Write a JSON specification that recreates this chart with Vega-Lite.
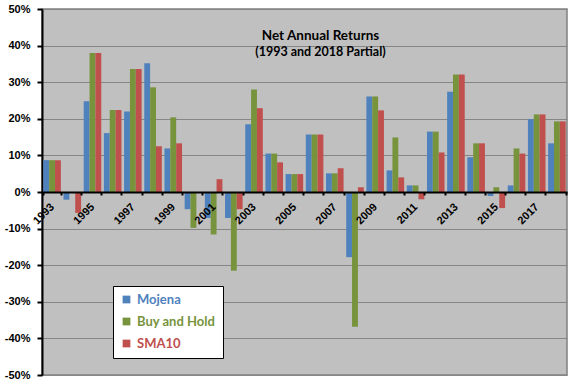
{
  "$schema": "https://vega.github.io/schema/vega-lite/v6.json",
  "width": 525,
  "height": 366,
  "autosize": "none",
  "padding": {"left": 42, "top": 9, "right": 9, "bottom": 9},
  "background": "white",
  "title": {
    "text": "Net Annual Returns",
    "subtitle": "(1993 and 2018 Partial)",
    "anchor": "middle",
    "frame": "group",
    "orient": "top",
    "offset": -55,
    "dx": 16,
    "font": "Lato",
    "fontSize": 13.5,
    "fontWeight": "bold",
    "color": "black",
    "subtitleFont": "Lato",
    "subtitleFontSize": 12.5,
    "subtitleFontWeight": "bold",
    "subtitleColor": "black",
    "subtitlePadding": 3
  },
  "config": {
    "view": {"fill": "#C0C0C0", "stroke": "#808080", "strokeWidth": 1.5}
  },
  "data": {
    "values": [
      {"year": 1993, "Mojena": 8.7, "Buy and Hold": 8.7, "SMA10": 8.7},
      {"year": 1994, "Mojena": -2.1, "Buy and Hold": 0, "SMA10": -5.7},
      {"year": 1995, "Mojena": 24.8, "Buy and Hold": 38.0, "SMA10": 38.0},
      {"year": 1996, "Mojena": 16.1, "Buy and Hold": 22.4, "SMA10": 22.4},
      {"year": 1997, "Mojena": 22.0, "Buy and Hold": 33.6, "SMA10": 33.6},
      {"year": 1998, "Mojena": 35.2, "Buy and Hold": 28.6, "SMA10": 12.5},
      {"year": 1999, "Mojena": 11.9, "Buy and Hold": 20.4, "SMA10": 13.3},
      {"year": 2000, "Mojena": -4.7, "Buy and Hold": -9.8, "SMA10": 0},
      {"year": 2001, "Mojena": -7.1, "Buy and Hold": -11.6, "SMA10": 3.5},
      {"year": 2002, "Mojena": -7.1, "Buy and Hold": -21.5, "SMA10": -4.7},
      {"year": 2003, "Mojena": 18.5, "Buy and Hold": 28.0, "SMA10": 22.9},
      {"year": 2004, "Mojena": 10.5, "Buy and Hold": 10.5, "SMA10": 8.1},
      {"year": 2005, "Mojena": 4.9, "Buy and Hold": 4.9, "SMA10": 4.9},
      {"year": 2006, "Mojena": 15.7, "Buy and Hold": 15.7, "SMA10": 15.7},
      {"year": 2007, "Mojena": 5.1, "Buy and Hold": 5.1, "SMA10": 6.5},
      {"year": 2008, "Mojena": -17.8, "Buy and Hold": -36.8, "SMA10": 1.3},
      {"year": 2009, "Mojena": 26.1, "Buy and Hold": 26.1, "SMA10": 22.3},
      {"year": 2010, "Mojena": 5.9, "Buy and Hold": 14.9, "SMA10": 4.0},
      {"year": 2011, "Mojena": 1.8, "Buy and Hold": 1.8, "SMA10": -2.0},
      {"year": 2012, "Mojena": 16.5, "Buy and Hold": 16.5, "SMA10": 10.8},
      {"year": 2013, "Mojena": 27.4, "Buy and Hold": 32.1, "SMA10": 32.1},
      {"year": 2014, "Mojena": 9.5, "Buy and Hold": 13.3, "SMA10": 13.3},
      {"year": 2015, "Mojena": -1.1, "Buy and Hold": 1.3, "SMA10": -4.4},
      {"year": 2016, "Mojena": 1.8, "Buy and Hold": 11.9, "SMA10": 10.5},
      {"year": 2017, "Mojena": 19.9, "Buy and Hold": 21.2, "SMA10": 21.2},
      {"year": 2018, "Mojena": 13.3, "Buy and Hold": 19.3, "SMA10": 19.3}
    ]
  },
  "transform": [
    {"fold": ["Mojena", "Buy and Hold", "SMA10"], "as": ["series", "ret"]}
  ],
  "mark": {"type": "bar", "stroke": null},
  "encoding": {
    "x": {
      "field": "year",
      "type": "ordinal",
      "scale": {"paddingInner": 0.13, "paddingOuter": 0.065},
      "axis": {
        "title": null,
        "offset": -183,
        "zindex": 1,
        "domainColor": "black",
        "domainWidth": 2,
        "tickColor": "black",
        "tickWidth": 2,
        "tickSize": 3,
        "tickBand": "extent",
        "labelAngle": -45,
        "labelAlign": "right",
        "labelBaseline": "middle",
        "labelPadding": 10,
        "labelFont": "Liberation Sans",
        "labelFontSize": 11,
        "labelFontWeight": "bold",
        "labelColor": "black",
        "labelExpr": "datum.value % 2 == 1 ? datum.label : ''",
        "labelOverlap": false
      }
    },
    "xOffset": {
      "field": "series",
      "type": "nominal",
      "sort": ["Mojena", "Buy and Hold", "SMA10"],
      "scale": {"paddingInner": 0, "paddingOuter": 0}
    },
    "y": {
      "field": "ret",
      "type": "quantitative",
      "scale": {"domain": [-50, 50], "nice": false},
      "axis": {
        "title": null,
        "values": [-50, -40, -30, -20, -10, 0, 10, 20, 30, 40, 50],
        "labelExpr": "datum.value + '%'",
        "domainColor": "black",
        "domainWidth": 2,
        "tickColor": "black",
        "tickWidth": 2,
        "tickSize": 5,
        "labelPadding": 7,
        "labelFont": "Liberation Sans",
        "labelFontSize": 11,
        "labelFontWeight": "bold",
        "labelColor": "black",
        "grid": true,
        "gridColor": "#868686",
        "gridWidth": 1.2
      }
    },
    "color": {
      "field": "series",
      "type": "nominal",
      "scale": {
        "domain": ["Mojena", "Buy and Hold", "SMA10"],
        "range": ["#4F81BD", "#77933C", "#C0504D"]
      },
      "legend": {
        "title": null,
        "orient": "none",
        "legendX": 71,
        "legendY": 277,
        "fillColor": "white",
        "strokeColor": "black",
        "padding": 7,
        "symbolType": "square",
        "symbolSize": 60,
        "symbolStrokeWidth": 0,
        "rowPadding": 8,
        "labelFont": "Lato",
        "labelFontSize": 13,
        "labelFontWeight": "bold",
        "labelOffset": 4,
        "labelLimit": 200,
        "labelColor": {"expr": "scale('color', datum.value)"}
      }
    }
  }
}
